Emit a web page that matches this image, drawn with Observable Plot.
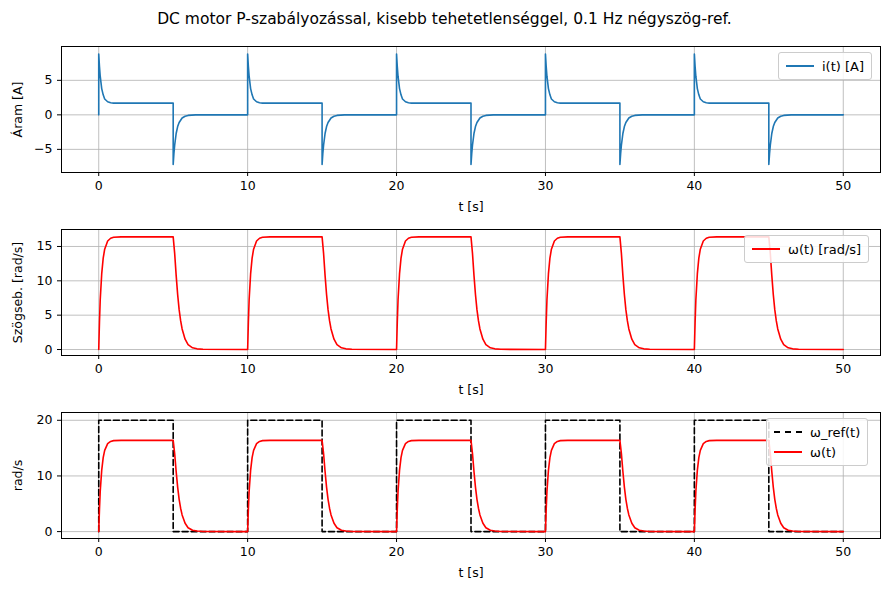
<!DOCTYPE html>
<html><head><meta charset="utf-8">
<script src="https://cdn.jsdelivr.net/npm/d3@7"></script>
<script src="https://cdn.jsdelivr.net/npm/@observablehq/plot@0.6"></script>
<style>
body{margin:0;background:#fff;font-family:"DejaVu Sans",sans-serif;}
#wrap{position:relative;width:889px;height:592px;}
#title{height:40px;line-height:38px;text-align:center;font-size:15.5px;}
.leg{position:absolute;background:rgba(255,255,255,0.85);border:1px solid #ccc;border-radius:3px;font-size:13px;padding:3px 7px;}
.leg div{display:flex;align-items:center;height:20px;}
.leg span{display:inline-block;width:28px;margin-right:8px;border-top:2px solid;}
svg{display:block}
</style></head><body>
<div id="wrap"><div id="title">DC motor P-szabályozással, kisebb tehetetlenséggel, 0.1 Hz négyszög-ref.</div><div id="charts"></div>
<div class="leg" style="left:778px;top:52px"><div><span style="border-color:#1f77b4"></span>i(t) [A]</div></div>
<div class="leg" style="left:744px;top:235px"><div><span style="border-color:red"></span>ω(t) [rad/s]</div></div>
<div class="leg" style="left:766px;top:418px"><div><span style="border-color:#000;border-top-style:dashed"></span>ω_ref(t)</div><div><span style="border-color:red"></span>ω(t)</div></div>
</div>
<script>
// periods start times
const periods = [0, 10, 20, 30, 40]
// one period of current
const iT = [0, 0, 0.05, 0.1, 0.2, 0.3, 0.4, 0.6, 0.8, 1.0, 5, 5, 5.05, 5.1, 5.2, 5.3, 5.4, 5.6, 5.8, 6.0, 6.5, 10]
const iV = [0, 8.8, 7.0, 5.6, 3.8, 2.9, 2.3, 1.9, 1.75, 1.7, 1.7, -7.2, -5.6, -4.4, -2.7, -1.7, -1.1, -0.45, -0.2, -0.08, 0, 0]
// one period of speed
const wT = [0, 0.05, 0.1, 0.2, 0.3, 0.4, 0.6, 0.8, 1.0, 1.5, 5, 5.1, 5.2, 5.3, 5.4, 5.5, 5.6, 5.8, 6.0, 6.3, 6.6, 7, 10]
const wV = [0, 4, 7.2, 11, 13.3, 14.6, 15.8, 16.2, 16.35, 16.4, 16.4, 14.0, 10.8, 8.0, 5.8, 4.2, 3.0, 1.5, 0.7, 0.25, 0.1, 0.03, 0]
// reference square wave
const rT = [0, 0, 5, 5, 10]
const rV = [0, 20, 20, 0, 0]

const build = (T, V) => periods.flatMap((p, k) => T.map((t, j) => ({t: t + p, v: V[j], k})))
const iData = build(iT, iV), wData = build(wT, wV), rData = build(rT, rV)

function panel(yDomain, yTicks, yLabel, marks) {
  return Plot.plot({
    width: 889, height: 183, marginLeft: 61, marginRight: 9, marginTop: 6, marginBottom: 51,
    style: {fontFamily: "DejaVu Sans", fontSize: "12.5px", color: "#000"},
    x: {domain: [-2.5, 52.5], ticks: [0, 10, 20, 30, 40, 50], tickSize: 4, label: "t [s]", labelAnchor: "center", labelArrow: "none", labelOffset: 38},
    y: {domain: yDomain, ticks: yTicks, tickSize: 4, label: yLabel, labelAnchor: "center", labelArrow: "none", labelOffset: 48},
    marks: [
      Plot.gridX([0, 10, 20, 30, 40, 50], {stroke: "#b0b0b0", strokeOpacity: 1, strokeWidth: 0.8}),
      Plot.gridY(yTicks, {stroke: "#b0b0b0", strokeOpacity: 1, strokeWidth: 0.8}),
      ...marks,
      Plot.frame({stroke: "#000"})
    ]
  })
}

const charts = d3.select('#charts')
charts.append(() => panel([-8.35, 9.9], [-5, 0, 5], "Áram [A]", [
  Plot.line(iData, {x: 't', y: 'v', stroke: '#1f77b4', strokeWidth: 1.6})
]))
charts.append(() => panel([-0.87, 17.47], [0, 5, 10, 15], "Szögseb. [rad/s]", [
  Plot.line(wData, {x: 't', y: 'v', stroke: 'red', strokeWidth: 1.6})
]))
charts.append(() => panel([-1.24, 21.4], [0, 10, 20], "rad/s", [
  Plot.line(rData, {x: 't', y: 'v', stroke: '#000', strokeWidth: 1.6, strokeDasharray: "6,3"}),
  Plot.line(wData, {x: 't', y: 'v', stroke: 'red', strokeWidth: 1.6})
]))
</script></body></html>
